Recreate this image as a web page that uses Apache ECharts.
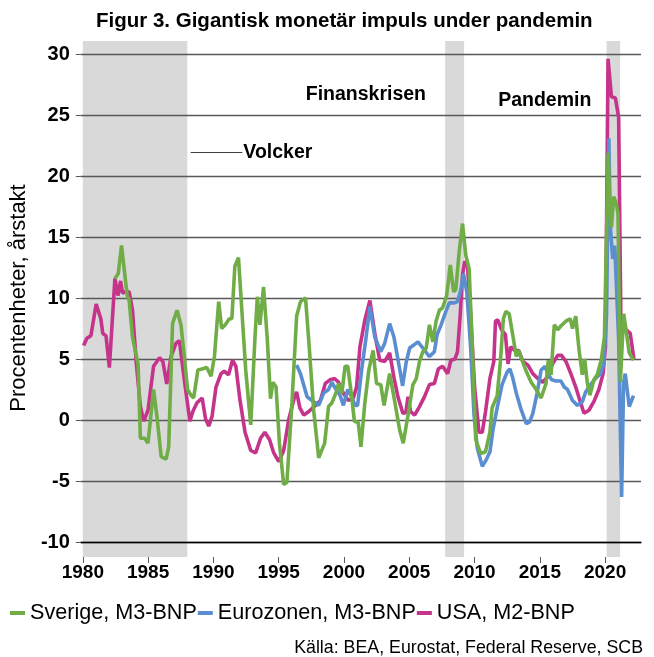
<!DOCTYPE html>
<html><head><meta charset="utf-8">
<script src="https://cdn.jsdelivr.net/npm/echarts@6/dist/echarts.min.js"></script>
<style>html,body{margin:0;padding:0;background:#fff}#c{width:654px;height:657px}</style>
</head><body><div id="c"></div>
<script>
const chartTitle = 'Figur 3. Gigantisk monetär impuls under pandemin';
const sourceText = 'Källa: BEA, Eurostat, Federal Reserve, SCB';
const yName = 'Procentenheter, årstakt';
const seriesNames = ['Sverige, M3-BNP', 'Eurozonen, M3-BNP', 'USA, M2-BNP'];
const xTicks = [1980, 1985, 1990, 1995, 2000, 2005, 2010, 2015, 2020];
const xRange = [1979.4, 2022.75];
const yRange = [-10, 30];
const yStep = 5;
const shadedPeriods = [[1980, 1988], [2007.75, 2009.2], [2020.12, 2021.15]];
const labelFinans = ['Finanskrisen', 2001.46, 26.64];
const labelPandemi = ['Pandemin', 2015.3, 26.15];
const volckerLine = ['Volcker', 1987.9, 1991.9, 21.94];

const sverige = [[1982.04,11.6],[1982.3,12.0],[1982.55,14.3],[1982.99,10.2],[1983.14,9.8],[1983.4,6.8],[1983.83,4.6],[1984.01,-1.5],[1984.34,-1.5],[1984.6,-1.9],[1985.03,2.5],[1985.29,0.3],[1985.62,-3.0],[1986.0,-3.2],[1986.2,-2.2],[1986.5,7.9],[1986.85,9.0],[1987.15,7.8],[1987.41,5.2],[1987.66,2.5],[1987.95,2.0],[1988.13,1.8],[1988.46,4.1],[1988.84,4.2],[1989.15,4.3],[1989.48,3.6],[1989.74,5.2],[1990.07,9.7],[1990.3,7.5],[1990.58,7.8],[1990.89,8.3],[1991.09,8.3],[1991.32,12.6],[1991.6,13.3],[1992.16,4.1],[1992.55,-0.4],[1992.88,6.8],[1993.06,10.1],[1993.26,7.8],[1993.54,10.9],[1993.82,6.8],[1994.08,1.75],[1994.26,3.1],[1994.51,2.7],[1994.77,-1.9],[1995.1,-5.3],[1995.35,-5.1],[1995.74,1.4],[1996.1,8.5],[1996.4,9.7],[1996.79,10.0],[1997.04,6.5],[1997.42,0.8],[1997.81,-3.1],[1998.27,-1.9],[1998.57,1.1],[1998.83,1.4],[1999.14,2.2],[1999.34,3.0],[1999.6,2.2],[1999.85,4.4],[2000.06,4.4],[2000.36,1.9],[2000.57,-0.1],[2000.87,-0.2],[2001.08,-2.2],[2001.38,1.4],[2001.69,4.1],[2002.02,5.7],[2002.28,3.0],[2002.61,2.9],[2002.87,1.2],[2003.3,3.8],[2003.63,1.9],[2004.07,-0.8],[2004.35,-1.9],[2004.72,0.4],[2005.1,2.9],[2005.36,3.4],[2005.61,4.8],[2005.87,5.6],[2006.13,5.9],[2006.38,7.8],[2006.64,6.4],[2006.89,8.1],[2007.15,9.0],[2007.4,9.2],[2007.71,10.2],[2007.99,12.7],[2008.25,10.5],[2008.42,10.7],[2008.68,13.8],[2008.94,16.1],[2009.19,13.5],[2009.45,12.4],[2009.7,5.9],[2009.96,-1.6],[2010.34,-2.75],[2010.72,-2.6],[2011.06,-1.0],[2011.23,1.0],[2011.62,2.0],[2011.87,4.8],[2012.1,8.3],[2012.3,8.9],[2012.55,8.7],[2012.85,6.8],[2013.1,5.2],[2013.28,5.7],[2013.54,4.9],[2013.87,4.0],[2014.25,3.1],[2014.64,2.5],[2015.02,1.8],[2015.4,3.0],[2015.58,4.9],[2015.79,3.7],[2016.04,7.8],[2016.3,7.4],[2016.55,7.7],[2016.94,8.1],[2017.27,8.3],[2017.45,7.5],[2017.7,8.5],[2017.96,5.7],[2018.21,3.7],[2018.39,5.0],[2018.6,3.0],[2018.8,2.05],[2019.1,3.3],[2019.36,3.7],[2019.67,4.9],[2019.92,6.8],[2020.21,21.9],[2020.34,17.5],[2020.46,15.8],[2020.64,18.3],[2020.85,17.7],[2020.97,16.9],[2021.15,3.1],[2021.41,8.7],[2021.59,7.4],[2021.84,5.5],[2022.17,4.9]];

const eurozonen = [[1996.1,4.5],[1996.4,3.8],[1996.91,1.9],[1997.42,1.5],[1997.81,1.2],[1998.19,2.2],[1998.57,2.5],[1998.83,3.1],[1999.09,2.6],[1999.47,2.0],[1999.72,1.2],[2000.06,2.5],[2000.36,1.9],[2000.62,1.2],[2000.82,1.2],[2001.13,4.1],[2001.44,6.5],[2001.77,9.3],[2002.15,6.8],[2002.61,5.6],[2002.92,6.3],[2003.3,7.9],[2003.63,6.8],[2004.07,4.2],[2004.3,2.8],[2004.59,4.8],[2004.85,5.9],[2005.49,6.4],[2005.87,5.9],[2006.38,5.2],[2006.76,5.6],[2006.97,7.0],[2007.28,7.8],[2007.58,8.7],[2007.91,9.6],[2008.3,9.6],[2008.55,9.7],[2008.81,10.7],[2009.01,12.0],[2009.27,10.5],[2009.57,5.9],[2009.83,0.4],[2010.08,-2.3],[2010.47,-3.8],[2010.8,-3.2],[2011.06,-2.6],[2011.31,-0.7],[2011.62,1.0],[2012.0,2.9],[2012.38,3.9],[2012.6,4.2],[2012.8,3.55],[2013.1,2.2],[2013.49,0.8],[2013.87,-0.3],[2014.13,-0.15],[2014.38,0.55],[2014.71,2.2],[2015.02,4.1],[2015.33,4.4],[2015.53,3.8],[2015.84,3.3],[2016.17,3.2],[2016.55,3.2],[2016.81,2.7],[2017.06,2.5],[2017.45,1.6],[2017.83,1.2],[2018.21,1.5],[2018.47,2.3],[2018.85,2.9],[2019.23,3.4],[2019.62,3.8],[2019.87,4.6],[2020.08,8.5],[2020.26,23.1],[2020.38,15.8],[2020.56,13.2],[2020.72,14.3],[2021.02,6.6],[2021.25,-6.3],[2021.4,3.0],[2021.53,3.8],[2021.84,1.1],[2022.17,2.0]];

const usa = [[1979.62,6.1],[1979.87,6.7],[1980.18,6.9],[1980.59,9.5],[1980.95,8.3],[1981.1,7.1],[1981.35,6.9],[1981.61,4.3],[1982.04,11.6],[1982.27,10.2],[1982.48,11.4],[1982.63,10.4],[1982.81,10.5],[1983.14,10.5],[1983.4,9.0],[1983.7,4.6],[1984.01,1.1],[1984.27,-0.1],[1984.6,0.8],[1985.03,4.4],[1985.49,5.1],[1985.75,4.8],[1986.05,2.95],[1986.38,5.2],[1986.77,6.3],[1987.03,6.5],[1987.41,3.3],[1987.84,-0.1],[1988.07,0.7],[1988.38,1.4],[1988.79,1.8],[1989.05,0.1],[1989.3,-0.5],[1989.56,0.3],[1989.86,2.7],[1990.25,3.8],[1990.5,4.0],[1990.83,3.7],[1991.14,4.9],[1991.4,4.4],[1991.7,1.75],[1992.11,-1.0],[1992.55,-2.5],[1992.93,-2.7],[1993.31,-1.5],[1993.64,-1.0],[1994.0,-1.6],[1994.33,-2.7],[1994.72,-3.4],[1995.1,-2.5],[1995.48,0.0],[1995.94,1.9],[1996.1,2.3],[1996.35,1.0],[1996.66,0.4],[1997.04,0.7],[1997.55,1.2],[1997.94,1.6],[1998.32,3.0],[1998.7,3.3],[1999.03,3.4],[1999.34,3.1],[1999.72,2.2],[2000.1,1.6],[2000.49,1.8],[2000.74,2.7],[2001.0,6.0],[2001.38,8.2],[2001.77,9.8],[2002.15,7.1],[2002.53,4.9],[2002.92,4.8],[2003.3,5.5],[2003.63,3.5],[2003.94,1.9],[2004.32,0.55],[2004.55,0.6],[2004.72,1.9],[2004.92,0.7],[2005.23,0.4],[2005.61,1.1],[2005.99,1.9],[2006.38,2.9],[2006.76,3.0],[2007.07,4.2],[2007.4,4.4],[2007.79,3.8],[2008.04,4.9],[2008.35,5.0],[2008.55,5.6],[2008.76,8.6],[2008.94,11.9],[2009.11,13.0],[2009.32,12.7],[2009.57,8.6],[2009.88,2.6],[2010.21,-1.0],[2010.47,-1.0],[2010.72,0.7],[2011.06,3.4],[2011.36,4.8],[2011.49,8.1],[2011.67,8.2],[2011.95,7.4],[2012.26,7.0],[2012.46,4.6],[2012.67,6.0],[2012.98,5.7],[2013.28,5.7],[2013.61,4.8],[2014.0,4.5],[2014.38,3.8],[2014.76,3.4],[2015.15,3.1],[2015.53,3.55],[2015.91,4.6],[2016.3,5.3],[2016.6,5.3],[2016.94,4.8],[2017.32,3.8],[2017.7,2.7],[2018.08,1.4],[2018.34,0.55],[2018.72,0.8],[2019.1,1.5],[2019.49,2.5],[2019.82,3.8],[2020.0,6.0],[2020.2,29.6],[2020.46,26.5],[2020.77,26.4],[2021.02,24.8],[2021.2,7.3],[2021.59,7.4],[2021.92,7.1],[2022.2,5.0]];

const colors = ['#70AD47', '#5A8ED0', '#C5338A'];
const font = 'Liberation Sans, Arial, sans-serif';

const chart = echarts.init(document.getElementById('c'), null, {renderer: 'canvas'});
const lineSeries = (name, data, color) => ({
  type: 'line', name, data, xAxisIndex: 0, yAxisIndex: 0,
  showSymbol: false, symbol: 'none', z: 5,
  lineStyle: {width: 3.6, color}, itemStyle: {color}, animation: false
});
chart.setOption({
  animation: false,
  textStyle: {fontFamily: font},
  title: [
    {text: chartTitle, left: 91, top: 6, textStyle: {fontSize: 20.5, fontWeight: 'bold', color: '#000', fontFamily: font}},
    {text: sourceText, right: 6, top: 634, textStyle: {fontSize: 17.8, fontWeight: 'normal', color: '#000', fontFamily: font}}
  ],
  legend: {
    data: seriesNames, left: 5, top: 597, icon: 'rect', itemWidth: 15, itemHeight: 4, itemGap: 1,
    textStyle: {fontSize: 21.6, color: '#000', fontFamily: font}
  },
  grid: [
    {left: 75, right: 13, top: 54, bottom: 115},
    {left: 75, right: 13, top: 41, bottom: 100}
  ],
  xAxis: [
    {gridIndex: 0, type: 'value', min: xRange[0], max: xRange[1], z: 3,
     axisLine: {show: true, onZero: false, lineStyle: {color: '#000', width: 1.3}},
     axisTick: {show: false}, axisLabel: {show: false}, splitLine: {show: false}},
    {gridIndex: 1, type: 'value', min: xRange[0], max: xRange[1],
     axisLine: {show: false, onZero: false},
     axisTick: {show: true, customValues: xTicks, length: 6, lineStyle: {color: '#595959'}},
     axisLabel: {customValues: xTicks, formatter: v => String(Math.round(v)), fontSize: 19, fontWeight: 'bold', color: '#000', margin: 6, fontFamily: font},
     splitLine: {show: false}}
  ],
  yAxis: [
    {gridIndex: 0, type: 'value', min: yRange[0], max: yRange[1], interval: yStep, z: 3,
     axisLine: {show: false},
     axisTick: {show: true, length: 5, lineStyle: {color: '#595959'}},
     axisLabel: {fontSize: 20, fontWeight: 'bold', color: '#000', margin: 11, fontFamily: font},
     splitLine: {lineStyle: {color: '#595959', width: 1.3}},
     name: yName, nameLocation: 'middle', nameGap: 50,
     nameTextStyle: {fontSize: 22, color: '#000', fontFamily: font}},
    {gridIndex: 1, type: 'value', min: 0, max: 1, show: false}
  ],
  series: [
    {type: 'line', name: 'bands', xAxisIndex: 1, yAxisIndex: 1, data: [[xRange[0], 0]], z: 0,
     showSymbol: false, symbol: 'none', lineStyle: {opacity: 0}, silent: true,
     markArea: {silent: true, z: 0, itemStyle: {color: '#D9D9D9'},
       data: shadedPeriods.map(p => [{xAxis: p[0]}, {xAxis: p[1]}])}},
    lineSeries(seriesNames[2], usa, colors[2]),
    lineSeries(seriesNames[1], eurozonen, colors[1]),
    lineSeries(seriesNames[0], sverige, colors[0]),
    {type: 'line', name: 'annot', xAxisIndex: 0, yAxisIndex: 0, data: [], z: 6, silent: true,
     markPoint: {symbol: 'circle', symbolSize: 0, silent: true,
       label: {show: true, position: 'inside', formatter: '{b}', fontSize: 19.5, fontWeight: 'bold', color: '#000', fontFamily: font},
       data: [
         {name: labelFinans[0], coord: [labelFinans[1], labelFinans[2]]},
         {name: labelPandemi[0], coord: [labelPandemi[1], labelPandemi[2]]}
       ]},
     markLine: {symbol: ['none', 'none'], silent: true,
       lineStyle: {color: '#404040', width: 1.2, type: 'solid'},
       label: {show: true, position: 'end', formatter: volckerLine[0], distance: 1, fontSize: 19.5, fontWeight: 'bold', color: '#000', fontFamily: font},
       data: [[{coord: [volckerLine[1], volckerLine[3]]}, {coord: [volckerLine[2], volckerLine[3]]}]]}}
  ]
});
</script></body></html>
